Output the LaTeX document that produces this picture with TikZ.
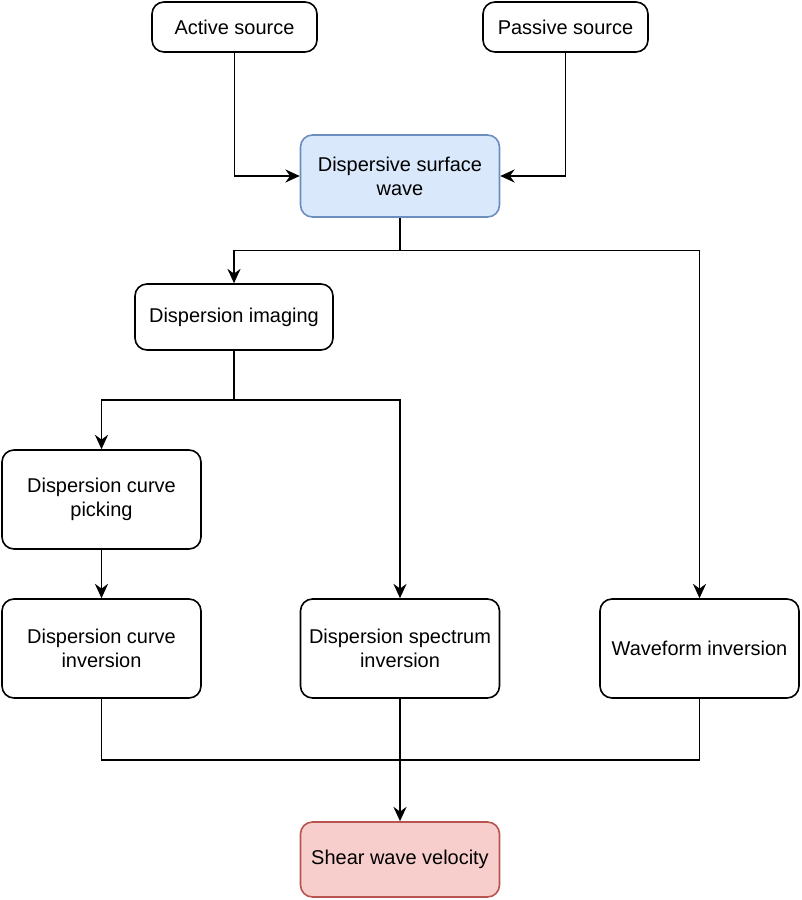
\documentclass[tikz,border=0pt]{standalone}
\usepackage{fontspec}
\setmainfont{Liberation Sans}
\usetikzlibrary{arrows.meta}
\definecolor{waveFill}{HTML}{DAE8FC}
\definecolor{waveDraw}{HTML}{6C8EBF}
\definecolor{shearFill}{HTML}{F8CECC}
\definecolor{shearDraw}{HTML}{B85450}
\begin{document}
\begin{tikzpicture}[x=0.25mm,y=-0.25mm,
	box/.style={draw,rounded corners=3mm,line width=0.4mm,align=center,inner sep=0pt,
		minimum width=49.75mm,minimum height=24.75mm,font=\fontsize{14.2}{17}\selectfont},
	link/.style={line width=0.4mm,-{Stealth[length=3.6mm,width=3.3mm,inset=1.2mm]}}]
	\useasboundingbox (0,0) rectangle (801,900);
	\node[box,minimum width=41.25mm,minimum height=12.5mm] (v1) at (234.5,27) {Active source};
	\node[box,minimum width=41.25mm,minimum height=12.5mm] (v2) at (565.5,27) {Passive source};
	\node[box,fill=waveFill,draw=waveDraw,minimum height=20.5mm] (v3) at (400,176) {Dispersive surface\\wave};
	\draw[link] (v1.south) |- (v3.west);
	\draw[link] (v2.south) |- (v3.east);
	
	\node[box,minimum width=49.5mm,minimum height=16.5mm] (v4) at (234,317) {Dispersion imaging};
	\node[box] (v5) at (101.5,499.5) {Dispersion curve\\picking};
	\node[box] (v6) at (101.5,648.5) {Dispersion curve\\inversion};
	\node[box] (v7) at (400,648.5) {Dispersion spectrum\\inversion};
	\node[box] (v8) at (699.5,648.5) {Waveform inversion};
	\coordinate (c1) at (400,250.5);
	\draw[link] (v3.south) -- (c1) -| (v4.north);
	\draw[link] (c1) -| (v8.north);
	\coordinate (c2) at (234,400);
	\draw[link] (v4.south) -- (c2) -| (v5.north);
	\draw[link] (c2) -| (v7.north);
	\draw[link] (v5) -- (v6);
	
	\node[box,fill=shearFill,draw=shearDraw,minimum height=18.75mm] (v9) at (400,859.5) {Shear wave velocity};
	\coordinate (c3) at (400,760);
	\draw[line width=0.4mm] (v6.south) |- (c3) -| (v8.south);
	\draw[link] (v7) -- (v9);
\end{tikzpicture}
\end{document}
